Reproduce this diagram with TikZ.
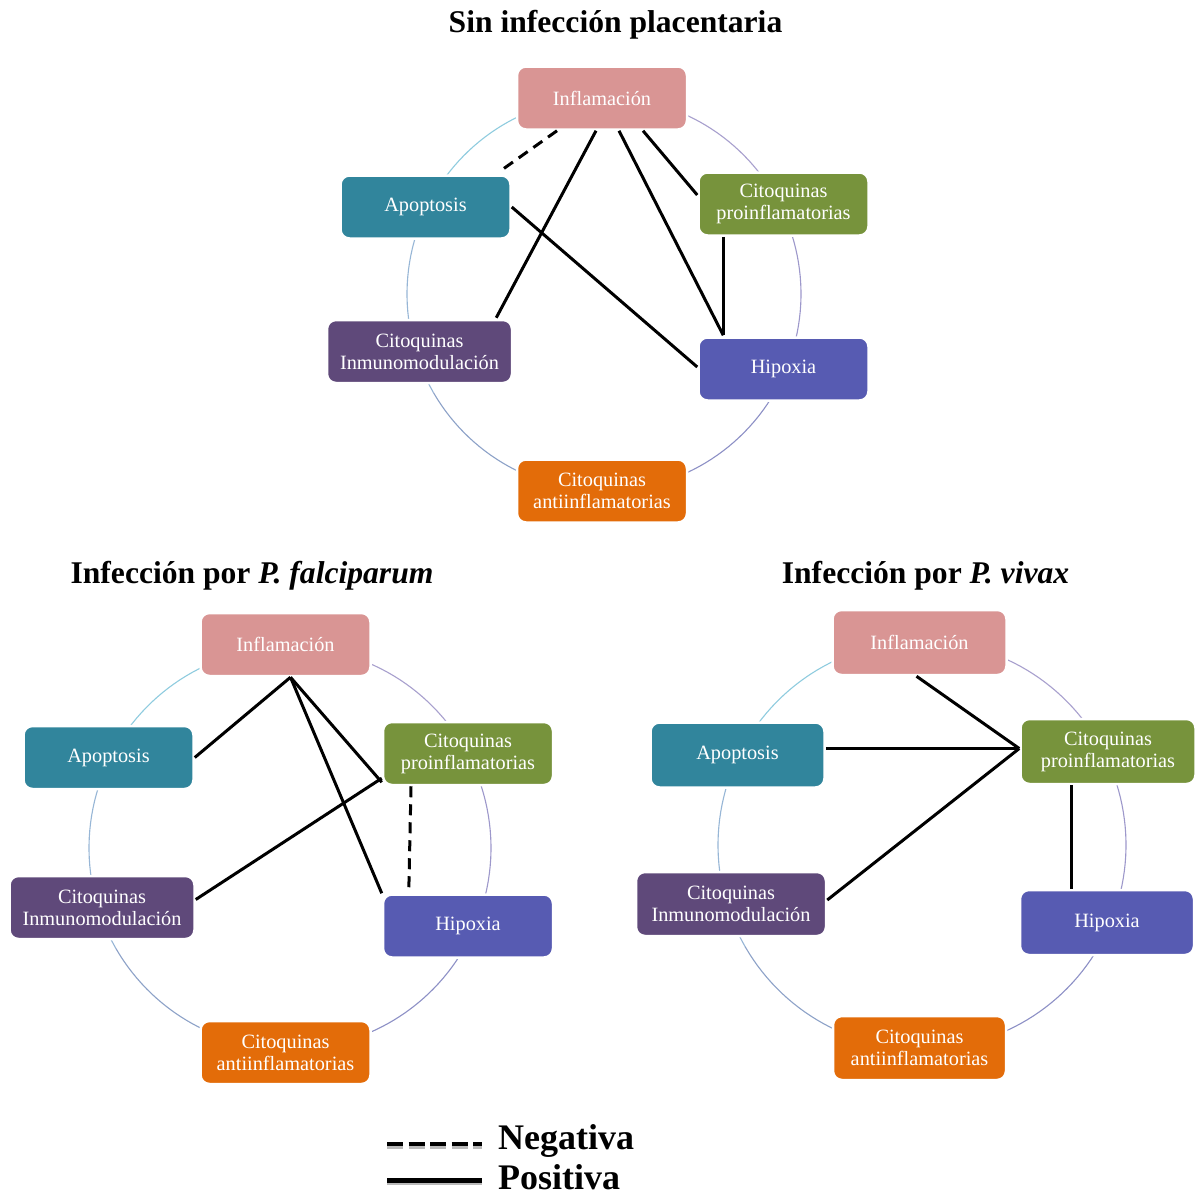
\documentclass[tikz,border=0pt]{standalone}
\usepackage{fontspec}
\setmainfont{Liberation Serif}
\usetikzlibrary{calc}
\definecolor{cInf}{HTML}{D99594}
\definecolor{cApo}{HTML}{31859C}
\definecolor{cPro}{HTML}{77933C}
\definecolor{cInm}{HTML}{5F497A}
\definecolor{cHip}{HTML}{575BB2}
\definecolor{cAnt}{HTML}{E36C09}
\definecolor{r1}{HTML}{8FCCDF}
\definecolor{r2}{HTML}{97B6D6}
\definecolor{r3}{HTML}{8DA2C8}
\definecolor{r4}{HTML}{8D90C6}
\definecolor{r5}{HTML}{9D98CB}
\definecolor{r6}{HTML}{A8A0CE}
\tikzset{
  box/.style={rounded corners=9pt, minimum width=170pt, minimum height=63pt,
    inner sep=0pt, text=white, align=center,
    font=\fontsize{20.3}{22}\selectfont, draw=white, line width=2.5pt},
  wide/.style={minimum width=185pt},
  posline/.style={line width=3pt, black},
  negline/.style={line width=3pt, black, dash pattern=on 11pt off 7pt},
  ring/.style={line width=1.1pt},
  ttl/.style={font=\fontsize{31.6}{36}\selectfont\bfseries, anchor=base, inner sep=0pt},
  leg/.style={font=\fontsize{36}{40}\selectfont\bfseries, anchor=base west, inner sep=0pt},
}
\newcommand{\myring}[3]{% cx, cy, r
  \draw[ring, r1, domain=210:270, samples=30, variable=\t] plot ({#1+#3*cos(\t)},{#2+#3*sin(\t)});
  \draw[ring, r2, domain=150:210, samples=30, variable=\t] plot ({#1+#3*cos(\t)},{#2+#3*sin(\t)});
  \draw[ring, r3, domain=90:150, samples=30, variable=\t] plot ({#1+#3*cos(\t)},{#2+#3*sin(\t)});
  \draw[ring, r4, domain=30:90, samples=30, variable=\t] plot ({#1+#3*cos(\t)},{#2+#3*sin(\t)});
  \draw[ring, r5, domain=-30:30, samples=30, variable=\t] plot ({#1+#3*cos(\t)},{#2+#3*sin(\t)});
  \draw[ring, r6, domain=270:330, samples=30, variable=\t] plot ({#1+#3*cos(\t)},{#2+#3*sin(\t)});
}
\begin{document}
\begin{tikzpicture}[x=1pt,y=-1pt]
\useasboundingbox[fill=white] (0,0) rectangle (1198,1197);

% ---------- Titles ----------
\node[ttl] (t1) at (615.5,32) {Sin infección placentaria};
\node[ttl] (t2) at (252,583) {Infección por \textit{P. falciparum}};
\node[ttl] (t3) at (925.5,583) {Infección por \textit{P. vivax}};

% ---------- Top diagram ----------
\myring{604}{294}{197}
\node[box, fill=cInf] (infT) at (602,98) {Inflamación};
\node[box, fill=cApo] (apoT) at (425.5,207) {Apoptosis};
\node[box, fill=cPro] (proT) at (783.5,204) {Citoquinas\\proinflamatorias};
\node[box, wide, fill=cInm] (inmT) at (419.5,351.5) {Citoquinas\\Inmunomodulación};
\node[box, fill=cHip] (hipT) at (783.5,369) {Hipoxia};
\node[box, fill=cAnt] (antT) at (602,491) {Citoquinas\\antiinflamatorias};

\draw[negline] ([xshift=-45pt]infT.south) -- ([xshift=-9pt,yshift=5pt]apoT.north east);
\draw[posline] ([xshift=-6pt]infT.south) -- ([xshift=-17pt,yshift=1pt]inmT.north east);
\draw[posline] ([xshift=17pt]infT.south) -- ([xshift=26pt,yshift=1pt]hipT.north west);
\draw[posline] ([xshift=41pt]infT.south) -- ([yshift=9pt]proT.west);
\draw[posline] ([xshift=26pt]proT.south west) -- ([xshift=26pt,yshift=1pt]hipT.north west);
\draw[posline] (apoT.east) -- ([yshift=2pt]hipT.west);

% ---------- Bottom-left diagram (P. falciparum) ----------
\myring{290}{848}{201}
\node[box, fill=cInf] (infL) at (285.5,644.5) {Inflamación};
\node[box, fill=cApo] (apoL) at (108.5,757.5) {Apoptosis};
\node[box, fill=cPro] (proL) at (468,753.5) {Citoquinas\\proinflamatorias};
\node[box, wide, fill=cInm] (inmL) at (102,907.5) {Citoquinas\\Inmunomodulación};
\node[box, fill=cHip] (hipL) at (468,926) {Hipoxia};
\node[box, fill=cAnt] (antL) at (285.5,1052.5) {Citoquinas\\antiinflamatorias};

\coordinate (oL) at ([xshift=5pt]infL.south);
\draw[posline] (oL) -- (apoL.east);
\draw[posline] (oL) -- ([yshift=4pt]proL.south west);
\draw[posline] (oL) -- (hipL.north west);
\draw[posline] ([yshift=8pt]inmL.east) -- ([yshift=8pt]proL.south west);
\draw[negline] ([xshift=-57pt]proL.south) -- ([xshift=27pt]hipL.north west);

% ---------- Bottom-right diagram (P. vivax) ----------
\myring{922}{845}{204}
\node[box, minimum width=174pt, minimum height=65pt, fill=cInf] (infR) at (919.5,642.5) {Inflamación};
\node[box, minimum width=174pt, minimum height=65pt, fill=cApo] (apoR) at (737.5,755) {Apoptosis};
\node[box, minimum width=175pt, minimum height=65pt, fill=cPro] (proR) at (1108,751.5) {Citoquinas\\proinflamatorias};
\node[box, minimum width=190pt, minimum height=64pt, fill=cInm] (inmR) at (731,904) {Citoquinas\\Inmunomodulación};
\node[box, minimum width=174pt, minimum height=65pt, fill=cHip] (hipR) at (1107,922.5) {Hipoxia};
\node[box, minimum width=173pt, minimum height=64pt, fill=cAnt] (antR) at (919.5,1048) {Citoquinas\\antiinflamatorias};

\coordinate (pR) at ([yshift=3pt]proR.west);
\draw[posline] ([xshift=-3pt]infR.south) -- (pR);
\draw[posline] (apoR.east |- pR) -- (pR);
\draw[posline] ([yshift=4pt]inmR.east) -- (pR);
\coordinate (vR) at ([xshift=-37pt]proR.south);
\draw[posline] (vR) -- (vR |- hipR.north);

% ---------- Legend ----------
\coordinate (n1) at (387,1144);
\coordinate (n2) at (482,1144);
\coordinate (p1) at (387,1180.5);
\coordinate (p2) at (482,1180.5);
\draw[line width=3.5pt, gray!55, dash pattern=on 16pt off 5.5pt] ([yshift=-3pt]n1) -- ([yshift=-3pt]n2);
\draw[line width=4.5pt, black, dash pattern=on 16pt off 5.5pt] (n1) -- (n2);
\draw[line width=3.5pt, gray!55] ([yshift=-3pt]p1) -- ([yshift=-3pt]p2);
\draw[line width=4.5pt, black] (p1) -- (p2);
\node[leg] (lneg) at (498,1149) {Negativa};
\node[leg] (lpos) at (498,1189) {Positiva};
\end{tikzpicture}
\end{document}
